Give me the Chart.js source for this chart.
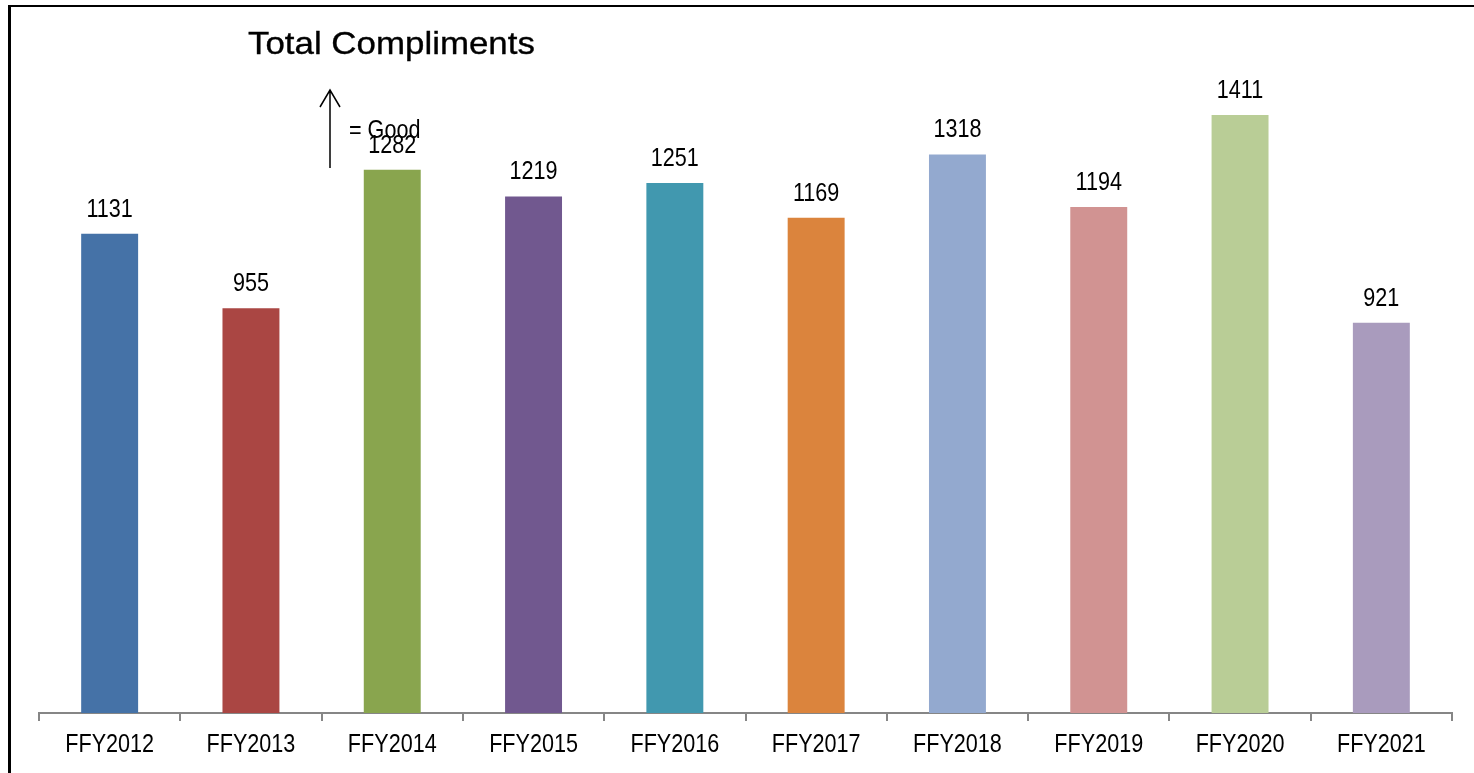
<!DOCTYPE html>
<html>
<head>
<meta charset="utf-8">
<script src="https://cdn.jsdelivr.net/npm/chart.js@4.4.1/dist/chart.umd.min.js"></script>
<style>
  html,body{margin:0;padding:0;background:#fff;}
  #wrap{position:relative;width:1474px;height:773px;}
</style>
</head>
<body>
<div id="wrap"><canvas id="c" width="1474" height="773"></canvas></div>
<script>
const categories = ['FFY2012','FFY2013','FFY2014','FFY2015','FFY2016','FFY2017','FFY2018','FFY2019','FFY2020','FFY2021'];
const compliments = [1131, 955, 1282, 1219, 1251, 1169, 1318, 1194, 1411, 921];
const barColors = ['#4572A7','#AA4643','#89A54E','#71588F','#4198AF','#DB843D','#93A9CF','#D19392','#B9CD96','#A99BBD'];
const titleText = 'Total Compliments';
const noteText = '= Good';

const SANS = '"Liberation Sans", Arial, sans-serif';
const SQUASH = 0.83;

// draw text horizontally condensed around its anchor point
function narrowText(ctx, text, x, y, align) {
  ctx.save();
  ctx.translate(x, y);
  ctx.scale(SQUASH, 1);
  ctx.textAlign = align;
  ctx.fillText(text, 0, 0);
  ctx.restore();
}

function patchScaleLabels(scale) {
  if (scale._narrowPatched) return;
  scale._narrowPatched = true;
  const orig = scale.drawLabels.bind(scale);
  scale.drawLabels = function (area) {
    const ctx = this.ctx;
    const protoTranslate = CanvasRenderingContext2D.prototype.translate;
    ctx.translate = function (x, y) {
      protoTranslate.call(ctx, x, y);
      ctx.scale(SQUASH, 1);
    };
    try { orig(area); } finally { delete ctx.translate; }
  };
}

const decor = {
  id: 'decor',
  beforeDraw(chart) {
    patchScaleLabels(chart.scales.x);
    const ctx = chart.ctx;
    ctx.save();
    ctx.fillStyle = '#000';
    ctx.fillRect(8, 5, 3, 773);
    ctx.fillRect(8, 5, 1474, 2);
    ctx.restore();
  },
  afterDraw(chart) {
    const ctx = chart.ctx;
    ctx.save();
    const meta = chart.getDatasetMeta(0);
    ctx.font = '26px ' + SANS;
    ctx.fillStyle = '#000';
    ctx.textBaseline = 'alphabetic';
    meta.data.forEach((bar, i) => {
      narrowText(ctx, String(compliments[i]), bar.x, bar.y - 17, 'center');
    });
    // title
    ctx.save();
    ctx.font = '32px ' + SANS;
    ctx.translate(248, 54);
    ctx.scale(1.09, 1);
    ctx.textAlign = 'left';
    ctx.fillText(titleText, 0, 0);
    ctx.strokeStyle = '#000';
    ctx.lineWidth = 0.35;
    ctx.strokeText(titleText, 0, 0);
    ctx.restore();
    // arrow
    ctx.strokeStyle = '#000';
    ctx.lineWidth = 1.5;
    ctx.beginPath();
    ctx.moveTo(330, 168); ctx.lineTo(330, 90);
    ctx.moveTo(320, 107); ctx.lineTo(330, 90); ctx.lineTo(340, 107);
    ctx.stroke();
    ctx.font = '26px ' + SANS;
    narrowText(ctx, noteText, 349, 138, 'left');
    ctx.restore();
  }
};

new Chart(document.getElementById('c'), {
  type: 'bar',
  data: {
    labels: categories,
    datasets: [{
      data: compliments,
      backgroundColor: barColors,
      borderWidth: 0,
      categoryPercentage: 1.0,
      barPercentage: 0.403
    }]
  },
  options: {
    responsive: false,
    animation: false,
    devicePixelRatio: 1,
    layout: { padding: { left: 39, right: 22, top: 35, bottom: 0 } },
    plugins: { legend: { display: false }, tooltip: { enabled: false }, title: { display: false } },
    scales: {
      y: { display: false, min: 0, max: 1600 },
      x: {
        offset: true,
        grid: { offset: true, drawOnChartArea: false, drawTicks: true, tickLength: 8, color: '#868686', lineWidth: 2 },
        border: { display: true, color: '#868686', width: 2 },
        ticks: { color: '#000', font: { family: SANS, size: 26 }, padding: 8, maxRotation: 0, autoSkip: false },
        afterFit(scale) { scale.height = 60; }
      }
    }
  },
  plugins: [decor]
});
</script>
</body>
</html>
